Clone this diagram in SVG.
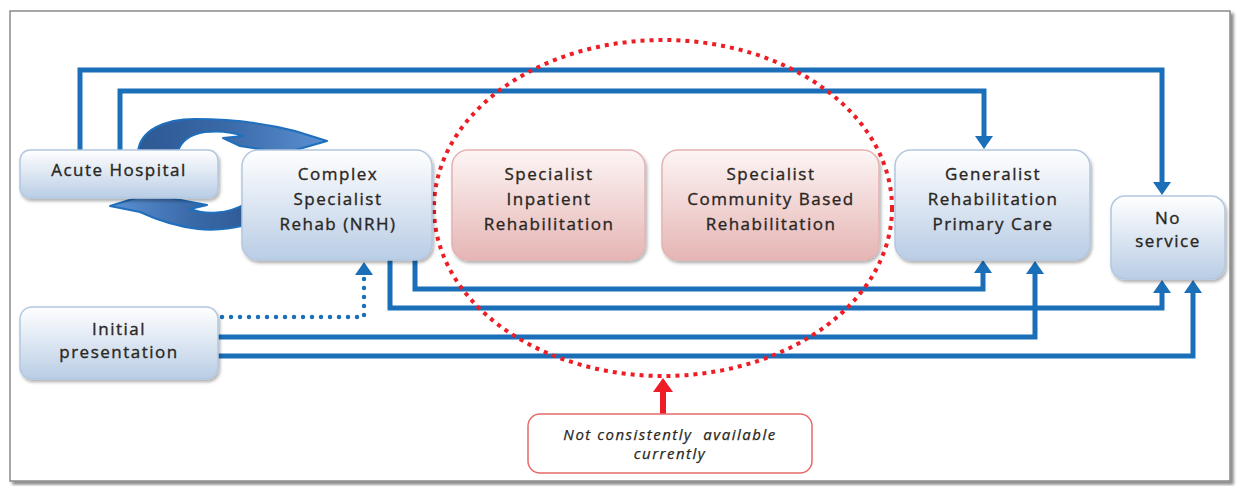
<svg xmlns="http://www.w3.org/2000/svg" width="1237" height="486" viewBox="0 0 1237 486">
<style>
.lbl{font-family:"Open Sans","Liberation Sans",sans-serif;font-size:17px;letter-spacing:1.5px;fill:#2a2622;stroke:#2a2622;stroke-width:0.35px;text-anchor:middle}
.note{font-family:"Open Sans","Liberation Sans",sans-serif;font-size:15px;font-style:italic;letter-spacing:1.5px;fill:#2a2622;stroke:#2a2622;stroke-width:0.25px;text-anchor:middle;white-space:pre}
.bbox{fill:url(#gBlue);stroke:#b3c7e0;stroke-width:1.5;filter:url(#sh)}
.pbox{fill:url(#gPink);stroke:#e3b3b3;stroke-width:1.5;filter:url(#sh)}
.conn{fill:none;stroke:#1a6fb8;stroke-width:5;marker-end:url(#ah)}
.dot{fill:none;stroke:#1a6fb8;stroke-width:4.5;stroke-linecap:round;stroke-dasharray:0 9;marker-end:url(#ah)}
.carrow{stroke:#1f6fbc;stroke-width:2;stroke-linejoin:round}
</style>
<defs>
<linearGradient id="gBlue" x1="0" y1="0" x2="0" y2="1">
<stop offset="0" stop-color="#ffffff"/><stop offset="1" stop-color="#b9cde5"/>
</linearGradient>
<linearGradient id="gPink" x1="0" y1="0" x2="0" y2="1">
<stop offset="0" stop-color="#fdf5f5"/><stop offset="1" stop-color="#e5b5b4"/>
</linearGradient>
<linearGradient id="gArcT" gradientUnits="userSpaceOnUse" x1="140" y1="0" x2="330" y2="0">
<stop offset="0" stop-color="#2d5994"/><stop offset="0.45" stop-color="#3a69a8"/><stop offset="1" stop-color="#5b92d4"/>
</linearGradient>
<linearGradient id="gArcB" gradientUnits="userSpaceOnUse" x1="110" y1="0" x2="260" y2="0">
<stop offset="0" stop-color="#5b92d4"/><stop offset="0.55" stop-color="#3a69a8"/><stop offset="1" stop-color="#2d5994"/>
</linearGradient>
<filter id="sh" x="-10%" y="-10%" width="130%" height="140%">
<feDropShadow dx="1.5" dy="2.5" stdDeviation="1.8" flood-color="#000" flood-opacity="0.3"/>
</filter>
<filter id="fsh" x="-2%" y="-2%" width="104%" height="106%">
<feDropShadow dx="3" dy="3" stdDeviation="1.5" flood-color="#000" flood-opacity="0.45"/>
</filter>
<marker id="ah" markerUnits="userSpaceOnUse" markerWidth="14" markerHeight="18" viewBox="0 0 14 18" refX="4" refY="9" orient="auto">
<path d="M0,0 L13,9 L0,18 Z" fill="#1a6fb8"/>
</marker>
<marker id="rah" markerUnits="userSpaceOnUse" markerWidth="14" markerHeight="20" viewBox="0 0 14 20" refX="3" refY="10" orient="auto">
<path d="M0,0 L14,10 L0,20 Z" fill="#ee1c25"/>
</marker>
</defs>

<rect x="10" y="11" width="1220" height="470" fill="#fff" stroke="#8a8a8a" stroke-width="1.5" filter="url(#fsh)"/>

<g id="cycle-arrows">
<path class="carrow" fill="url(#gArcT)" d="M138,152 C140,130 165,119 195,119 C235,119 268,124 295,131 L327,141 L285,153 L240,146 L223,138 L243,136 C230,131 215,131 205,132 C190,134 180,142 178,152 Z"/>
<path class="carrow" fill="url(#gArcB)" d="M110,206 L152,193 L175,199 L207,205 L190,209 C205,215 228,214 245,204 L258,220 C240,229 215,231 198,229 C175,226 155,219 140,212 Z"/>
</g>

<g id="connectors">
<path class="conn" d="M80,150 V70 H1162 V186"/>
<path class="conn" d="M120,150 V91 H984 V140"/>
<path class="conn" d="M415,260 V289 H983 V269"/>
<path class="conn" d="M390,260 V308 H1162 V289"/>
<path class="conn" d="M218,337 H1035 V270"/>
<path class="conn" d="M218,356 H1193 V289"/>
<path class="dot" d="M222,317 H364 V271"/>
<ellipse cx="663" cy="208" rx="229" ry="168" fill="none" stroke="#ee1c25" stroke-width="4" stroke-dasharray="4 5"/>
<path d="M663,414 V389" fill="none" stroke="#ee1c25" stroke-width="6" marker-end="url(#rah)"/>
</g>

<g id="acute-hospital">
<rect class="bbox" x="20" y="150" width="198" height="48" rx="10"/>
<text class="lbl" x="119" y="176">Acute Hospital</text>
</g>

<g id="complex-specialist">
<rect class="bbox" x="242" y="150" width="190" height="110" rx="16"/>
<text class="lbl" x="338" y="180">Complex</text>
<text class="lbl" x="338" y="205">Specialist</text>
<text class="lbl" x="338" y="230">Rehab (NRH)</text>
</g>

<g id="specialist-inpatient">
<rect class="pbox" x="452" y="150" width="193" height="110" rx="16"/>
<text class="lbl" x="549" y="180">Specialist</text>
<text class="lbl" x="549" y="205">Inpatient</text>
<text class="lbl" x="549" y="230">Rehabilitation</text>
</g>

<g id="specialist-community">
<rect class="pbox" x="662" y="150" width="217" height="110" rx="16"/>
<text class="lbl" x="771" y="180">Specialist</text>
<text class="lbl" x="771" y="205">Community Based</text>
<text class="lbl" x="771" y="230">Rehabilitation</text>
</g>

<g id="generalist">
<rect class="bbox" x="895" y="150" width="195" height="110" rx="16"/>
<text class="lbl" x="993" y="180">Generalist</text>
<text class="lbl" x="993" y="205">Rehabilitation</text>
<text class="lbl" x="993" y="230">Primary Care</text>
</g>

<g id="no-service">
<rect class="bbox" x="1111" y="196" width="114" height="83" rx="14"/>
<text class="lbl" x="1168" y="224">No</text>
<text class="lbl" x="1168" y="247">service</text>
</g>

<g id="initial-presentation">
<rect class="bbox" x="20" y="307" width="198" height="72" rx="12"/>
<text class="lbl" x="119" y="335">Initial</text>
<text class="lbl" x="119" y="358">presentation</text>
</g>

<g id="not-available">
<rect x="528" y="414" width="284" height="59" rx="12" fill="#fff" stroke="#e66a6a" stroke-width="1.5"/>
<text class="note" x="670" y="440">Not consistently  available</text>
<text class="note" x="670" y="459">currently</text>
</g>
</svg>
